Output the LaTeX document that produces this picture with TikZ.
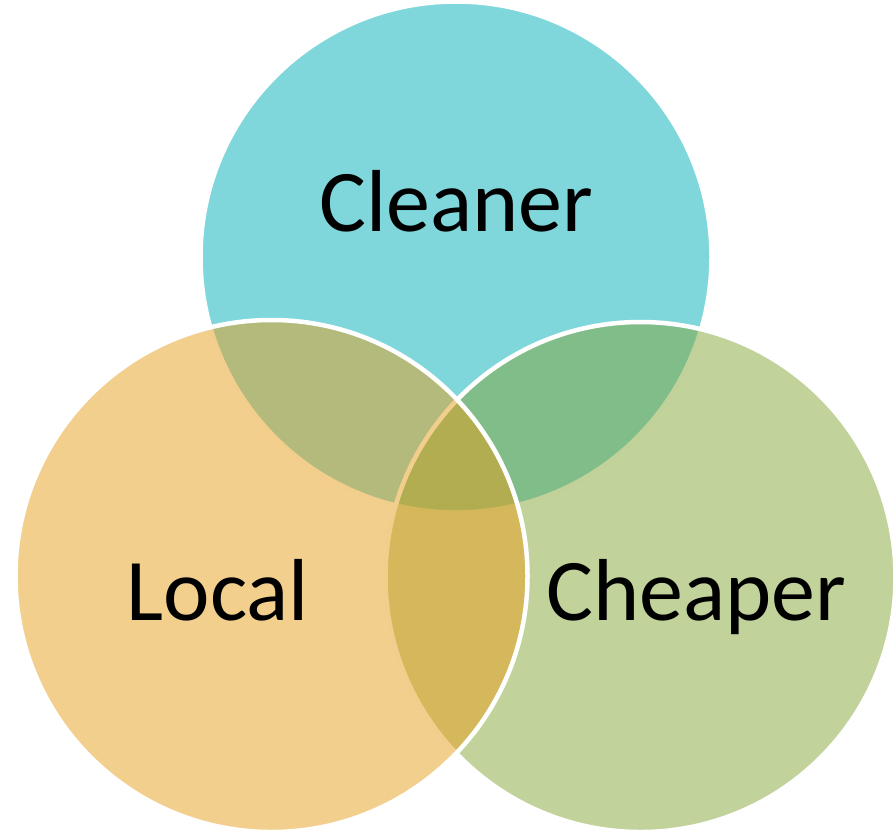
\documentclass[tikz,border=0pt]{standalone}
\usepackage{fontspec}
\setmainfont{Carlito}
\definecolor{cyanc}{RGB}{0,175,183}
\definecolor{greenc}{RGB}{133,165,55}
\definecolor{orangec}{RGB}{231,159,29}
\begin{document}
\begin{tikzpicture}[x=1pt,y=-1pt,
  venn/.style={circle, draw=white, line width=4.5pt, fill opacity=0.5, draw opacity=1, inner sep=0pt, outer sep=0pt},
  lbl/.style={font=\fontsize{88}{100}\selectfont, text=black, anchor=base, inner sep=0pt}]
\useasboundingbox (0,0) rectangle (893,830);
\node[venn, fill=cyanc, minimum size=511pt] (top) at (456,257) {};
\node[venn, fill=greenc, minimum size=510pt] (right) at (640.5,577) {};
\node[venn, fill=orangec, minimum size=512pt] (left) at (271.5,576) {};
\node[lbl] (cleaner) at (456,231) {Cleaner};
\node[lbl] (local) at (218,620) {Local};
\node[lbl] (cheaper) at (696,620) {Cheaper};
\end{tikzpicture}
\end{document}
